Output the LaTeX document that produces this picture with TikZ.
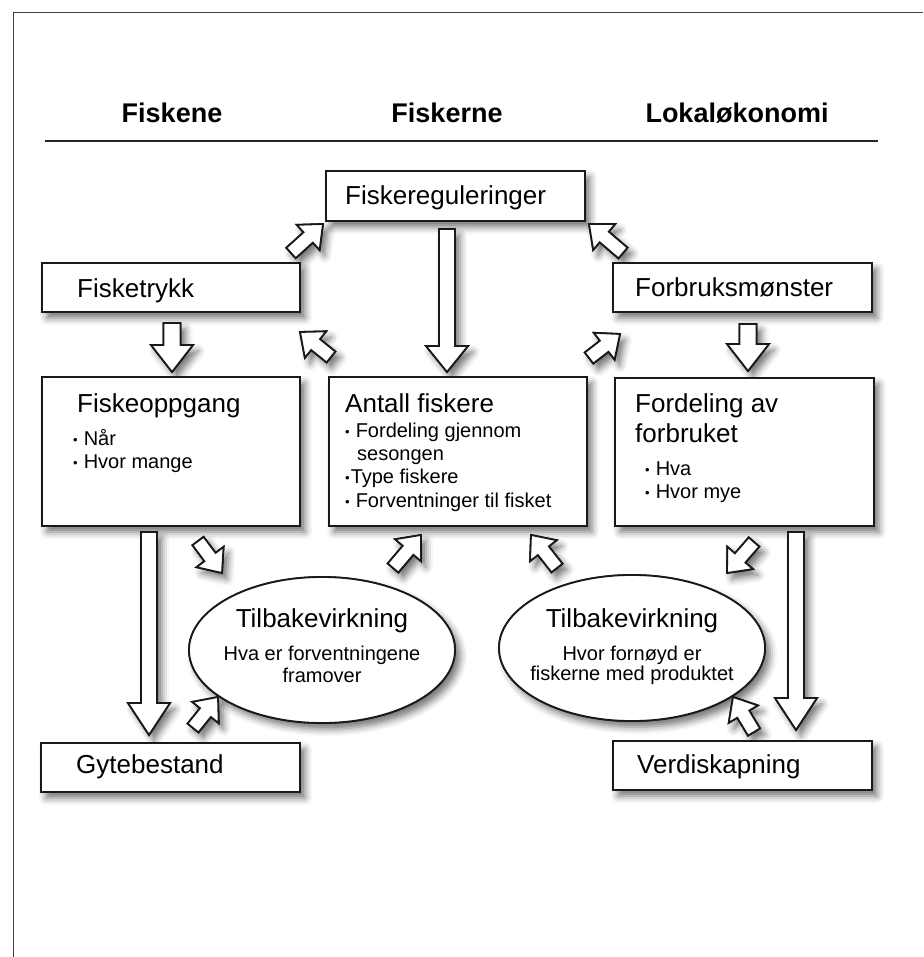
\documentclass[tikz,border=0pt]{standalone}
\usepackage{fontspec}
\setmainfont{Liberation Sans}
\usetikzlibrary{calc,shapes.geometric,shadows.blur}
\tikzset{
    soft/.style={blur shadow={shadow xshift=5pt, shadow yshift=-6pt, shadow blur radius=7pt, shadow opacity=55}},
    box/.style={draw=black!90, line width=2pt, fill=white, soft, inner sep=0pt, anchor=north west},
    loop/.style={ellipse, draw=black!90, line width=1.8pt, fill=white, soft, inner sep=0pt},
    fat/.style={draw=black!90, line width=1.8pt, fill=white, line join=miter, soft},
    head/.style={font=\fontsize{27}{30}\selectfont\bfseries, anchor=base},
    title/.style={font=\fontsize{26}{30}\selectfont, anchor=base west, inner sep=0pt},
    txt/.style={font=\fontsize{20}{22}\selectfont, anchor=base west, inner sep=0pt},
}
\newcommand{\boxAt}[5]{
    \node[box, minimum width=#4pt, minimum height=#5pt] (#1) at (#2, #3) {};
}
\newcommand{\blt}[1][6pt]{\raisebox{1pt}{\fontsize{13}{13}\selectfont\textbullet}\hspace{#1}}
\newcommand{\fatArrow}[8][]{
    \coordinate (fa-s) at ($(#2)+(#3)$);
    \coordinate (fa-e) at ($(#4)+(#5)$);
    \coordinate (fa-h) at ($(fa-e)!#8pt!(fa-s)$);
    \draw[fat, #1] ($(fa-s)!#6pt!90:(fa-e)$) -- ($(fa-h)!#6pt!90:(fa-e)$)
        -- ($(fa-h)!#7pt!90:(fa-e)$) -- (fa-e) -- ($(fa-h)!#7pt!-90:(fa-e)$)
        -- ($(fa-h)!#6pt!-90:(fa-e)$) -- ($(fa-s)!#6pt!-90:(fa-e)$) -- cycle;
}
\newcommand{\chart}{
    \boxAt{reg}{325}{170}{259}{50};
    \boxAt{trykk}{41}{262}{258}{49};
    \boxAt{monster}{612}{262}{259}{49};
    \boxAt{oppgang}{41}{376}{258}{149};
    \boxAt{antall}{328}{376}{258}{149};
    \boxAt{fordeling}{614}{377}{259}{148};
    \boxAt{gyte}{40}{742}{259}{49};
    \boxAt{verdi}{612}{740}{259}{49};

    \node[loop, minimum width=266pt, minimum height=146pt] (tilbakeA) at (322,650) {};
    \node[loop, minimum width=266pt, minimum height=146pt] (tilbakeB) at (632,648) {};

    \fatArrow{trykk.south}{1,10}{oppgang.north}{1,-4}{8.5}{21}{27};
    \fatArrow{monster.south}{5.5,11}{fordeling.north}{3.5,-6}{8.5}{21}{27};
    \fatArrow{reg.south}{-8.5,7}{antall.north}{-11,-4}{8}{21}{26};
    \fatArrow{trykk.north east}{-10,-9}{reg.south west}{-2,2}{7}{17}{20};
    \fatArrow{monster.north west}{11,-9}{reg.south east}{3,2}{7}{17}{20};
    \fatArrow{antall.north west}{3,-19}{trykk.south east}{-1,19}{7}{17}{20};
    \fatArrow{antall.north east}{1,-18}{monster.south west}{8,21}{7}{17}{20};
    \fatArrow{oppgang.south}{27,14}{tilbakeA}{-100,-77}{7}{17}{20};
    \fatArrow{tilbakeA}{71,-82}{antall.south}{-37,8}{7}{17}{20};
    \fatArrow{gyte.north}{22.5,-14}{tilbakeA}{-104,47}{7}{17}{20};
    \fatArrow{oppgang.south}{-22,5}{gyte.north}{-21.5,-7}{8}{21}{32};
    \fatArrow{tilbakeB}{-75,-80}{antall.south}{73,8}{7}{17}{20};
    \fatArrow{fordeling.south}{9.5,15}{tilbakeB}{95,-75}{7}{17}{20};
    \fatArrow{fordeling.south}{51.5,5}{verdi.north}{53.5,-10}{8}{21}{32};
    \fatArrow{verdi.north}{11.5,-8}{tilbakeB}{101,49}{7}{17}{20};
}
\begin{document}
\begin{tikzpicture}[x=1pt, y=-1pt]
    \useasboundingbox (0,0) rectangle (923,957);
    \draw[line width=1pt, black!75] (13,957) -- (13,13) -- (923,13);

    \node[head] (fiskene) at (172,123) {Fiskene};
    \node[head] (fiskerne) at (447,123) {Fiskerne};
    \node[head] (lokal) at (737,123) {Lokaløkonomi};
    \draw[line width=2pt, black!85] (45,141) -- (878,141);

    % shadows first, then the shapes again on top
    \chart
    \tikzset{soft/.style={}}
    \chart

    \node[title] (reg-t) at ($(reg.north west)+(20,35)$) {Fiskereguleringer};
    \node[title] (trykk-t) at ($(trykk.north west)+(36,35)$) {Fisketrykk};
    \node[title] (monster-t) at ($(monster.north west)+(23,34)$) {Forbruksmønster};
    \node[title] (gyte-t) at ($(gyte.north west)+(36,31)$) {Gytebestand};
    \node[title] (verdi-t) at ($(verdi.north west)+(25,33)$) {Verdiskapning};

    \node[title] (oppgang-t) at ($(oppgang.north west)+(36,36)$) {Fiskeoppgang};
    \foreach \dy/\txt [count=\i] in {69/Når, 92/Hvor mange}
        \node[txt] (oppgang-\i) at ($(oppgang.north west)+(32,\dy)$) {\blt\txt};

    \node[title] (antall-t) at ($(antall.north west)+(17,36)$) {Antall fiskere};
    \foreach \dy/\txt [count=\i] in {61/{\blt Fordeling gjennom}, 84/{\hspace*{12pt}sesongen},
            107/{\blt[1pt]Type fiskere}, 131/{\blt Forventninger til fisket}}
        \node[txt] (antall-\i) at ($(antall.north west)+(17,\dy)$) {\txt};

    \node[title] (fordeling-t1) at ($(fordeling.north west)+(21,35)$) {Fordeling av};
    \node[title] (fordeling-t2) at ($(fordeling.north west)+(21,65)$) {forbruket};
    \foreach \dy/\txt [count=\i] in {98/Hva, 121/Hvor mye}
        \node[txt] (fordeling-\i) at ($(fordeling.north west)+(31,\dy)$) {\blt\txt};

    \node[title, anchor=base] (tilbakeA-t) at ($(tilbakeA)+(0,-23)$) {Tilbakevirkning};
    \foreach \dy/\txt [count=\i] in {10/Hva er forventningene, 32/framover}
        \node[txt, anchor=base] (tilbakeA-\i) at ($(tilbakeA)+(0,\dy)$) {\txt};
    \node[title, anchor=base] (tilbakeB-t) at ($(tilbakeB)+(0,-21)$) {Tilbakevirkning};
    \foreach \dy/\txt [count=\i] in {12/Hvor fornøyd er, 32/fiskerne med produktet}
        \node[txt, anchor=base] (tilbakeB-\i) at ($(tilbakeB)+(0,\dy)$) {\txt};
\end{tikzpicture}
\end{document}
